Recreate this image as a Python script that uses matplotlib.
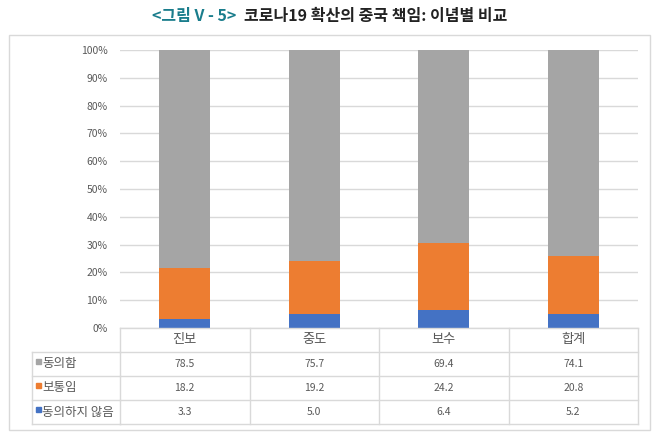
import matplotlib.pyplot as plt
from matplotlib.patches import Rectangle
import matplotlib.transforms as mtransforms

plt.rcParams['font.family'] = ['Noto Sans CJK KR', 'DejaVu Sans']

categories = ['진보', '중도', '보수', '합계']
disagree = [3.3, 5.0, 6.4, 5.2]
neutral = [18.2, 19.2, 24.2, 20.8]
agree = [78.5, 75.7, 69.4, 74.1]
series_names = ['동의함', '보통임', '동의하지 않음']
yticks = [0, 10, 20, 30, 40, 50, 60, 70, 80, 90, 100]

c_agree = '#A5A5A5'
c_neutral = '#ED7D31'
c_disagree = '#4472C4'
txt = '#595959'
line_c = '#D9D9D9'

W, H = 658, 443
fig = plt.figure(figsize=(W / 100, H / 100), dpi=100)

def fx(px):
    return px / W

def fy(py):
    return 1 - py / H

# outer chart frame
fig.patches.append(Rectangle((fx(9), fy(430)), fx(650) - fx(9), fy(35) - fy(430),
                             transform=fig.transFigure, fill=False,
                             edgecolor='#D9D9D9', linewidth=1.0))

# title
fig.text(fx(152), fy(16), '<그림 V - 5>', color='#1A7D8C', fontsize=11.5,
         fontweight='bold', ha='left', va='center')
fig.text(fx(244), fy(16), '코로나19 확산의 중국 책임: 이념별 비교', color='#222222',
         fontsize=11.5, fontweight='bold', ha='left', va='center')

ax = fig.add_axes([fx(120), fy(328), fx(638) - fx(120), fy(50) - fy(328)])
x = list(range(len(categories)))
total = [a + b + c for a, b, c in zip(disagree, neutral, agree)]
p_dis = [d / t * 100 for d, t in zip(disagree, total)]
p_neu = [n / t * 100 for n, t in zip(neutral, total)]
p_agr = [a / t * 100 for a, t in zip(agree, total)]
bottom2 = [a + b for a, b in zip(p_dis, p_neu)]

bw = 0.39
ax.bar(x, p_dis, width=bw, color=c_disagree, zorder=3)
ax.bar(x, p_neu, width=bw, bottom=p_dis, color=c_neutral, zorder=3)
ax.bar(x, p_agr, width=bw, bottom=bottom2, color=c_agree, zorder=3)

ax.set_xlim(-0.5, len(categories) - 0.5)
ax.set_ylim(0, 100)
ax.set_yticks(yticks)
ax.set_yticklabels([f'{v}%' for v in yticks], color=txt, fontsize=7.5)
ax.tick_params(axis='y', length=0, pad=9)
ax.set_xticks([])
ax.yaxis.grid(True, color=line_c, linewidth=1.0, zorder=0)
for s in ax.spines.values():
    s.set_visible(False)

# data table beneath the axes
trans = mtransforms.blended_transform_factory(ax.transData, fig.transFigure)
row_edges = [328, 352, 376, 400, 424]
left_px = 32
col_x = [-0.5 + i for i in range(len(categories) + 1)]

# horizontal lines
for i, ry in enumerate(row_edges):
    if i == 0:
        fig.add_artist(plt.Line2D([col_x[0], col_x[-1]], [fy(ry), fy(ry)],
                                  transform=trans, color=line_c, lw=1.0))
    else:
        fig.add_artist(plt.Line2D([fx(left_px), fx(120)], [fy(ry), fy(ry)],
                                  transform=fig.transFigure, color=line_c, lw=1.0))
        fig.add_artist(plt.Line2D([col_x[0], col_x[-1]], [fy(ry), fy(ry)],
                                  transform=trans, color=line_c, lw=1.0))
# vertical lines
for cx in col_x:
    fig.add_artist(plt.Line2D([cx, cx], [fy(328), fy(424)], transform=trans,
                              color=line_c, lw=1.0))
fig.add_artist(plt.Line2D([fx(left_px), fx(left_px)], [fy(352), fy(424)],
                          transform=fig.transFigure, color=line_c, lw=1.0))

for i, cat in enumerate(categories):
    fig.text(i, fy(340), cat, transform=trans, ha='center', va='center',
             color=txt, fontsize=9.5)

rows = [agree, neutral, disagree]
colors = [c_agree, c_neutral, c_disagree]
for r, (vals, name, col) in enumerate(zip(rows, series_names, colors)):
    yc = (row_edges[r + 1] + row_edges[r + 2]) / 2
    fig.patches.append(Rectangle((fx(36), fy(yc)), fx(5), 5 / H,
                                 transform=fig.transFigure, color=col))
    fig.text(fx(42), fy(yc), name, ha='left', va='center', color=txt, fontsize=9)
    for i, v in enumerate(vals):
        fig.text(i, fy(yc), f'{v:.1f}', transform=trans, ha='center', va='center',
                 color=txt, fontsize=7.5)

fig.savefig('out.png', dpi=100, facecolor='white')
